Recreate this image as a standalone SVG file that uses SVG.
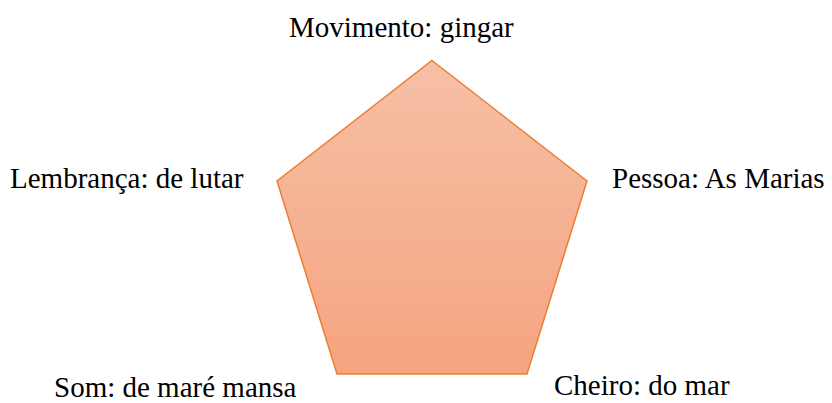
<svg xmlns="http://www.w3.org/2000/svg" width="832" height="403" viewBox="0 0 832 403">
<style>
.lbl{font-family:"Liberation Serif","Times New Roman",serif;font-size:29px;fill:#000}
.shape{stroke:#ED7D31;stroke-width:1.5;fill:url(#g)}
</style>
<defs>
<linearGradient id="g" x1="0" y1="0" x2="0" y2="1">
<stop offset="0" stop-color="#F6C0A6"/>
<stop offset="1" stop-color="#F5A47F"/>
</linearGradient>
</defs>
<g id="pentagon">
<polygon class="shape" points="432,60.5 587,181 527,374 337,374 277,181"/>
</g>
<g id="labels">
<text class="lbl" x="289" y="37">Movimento: gingar</text>
<text class="lbl" x="10" y="188">Lembrança: de lutar</text>
<text class="lbl" x="612" y="188">Pessoa: As Marias</text>
<text class="lbl" x="54" y="397">Som: de maré mansa</text>
<text class="lbl" x="554" y="395">Cheiro: do mar</text>
</g>
</svg>
